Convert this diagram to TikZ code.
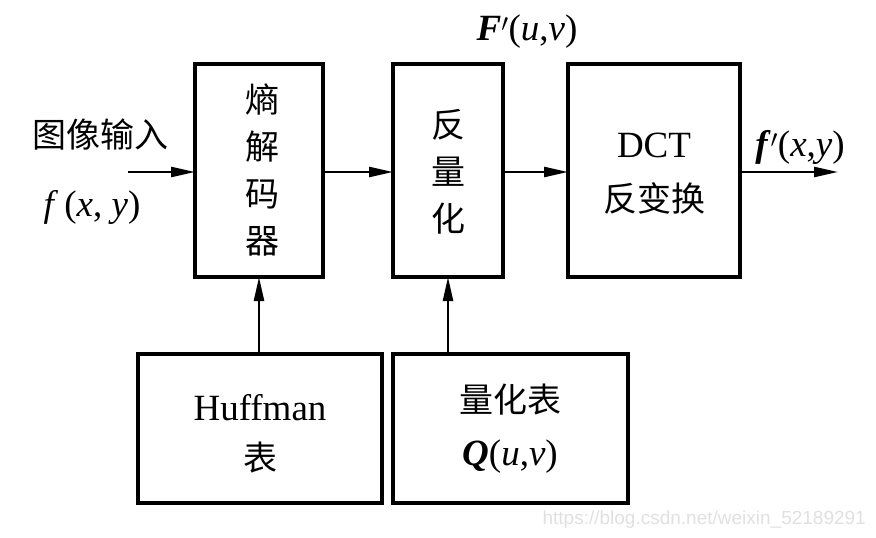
\documentclass[tikz,border=0pt]{standalone}
\usepackage{fontspec}
\setmainfont{Liberation Serif}
\newfontfamily\cjk{Noto Sans CJK SC}
\newfontfamily\wmfont{Liberation Sans}
\usetikzlibrary{arrows.meta,calc}
\begin{document}
\begin{tikzpicture}[x=1pt,y=-1pt,
  blk/.style={draw,line width=3.8pt,minimum width=#1,inner sep=0pt,outer sep=0pt},
  arr/.style={line width=2.4pt,-{Triangle[length=24pt,width=10pt]}},
  cj/.style={font=\cjk\fontsize{34}{40}\selectfont},
  cjcol/.style={font=\cjk\fontsize{34}{47}\selectfont},
  lt/.style={font=\fontsize{37}{44}\selectfont}]
\useasboundingbox (0,0) rectangle (876,538);
% boxes
\node[blk=128pt,minimum height=213pt] (b1) at (259,170.5) {};
\node[blk=110pt,minimum height=213pt] (b2) at (448,170.5) {};
\node[blk=172pt,minimum height=213pt] (b3) at (654,170.5) {};
\node[blk=244pt,minimum height=149pt] (hf) at (260,428.5) {};
\node[blk=235pt,minimum height=149pt] (qt) at (510.5,428.5) {};
% box texts
\node[cjcol,align=center,inner sep=0pt] (t1) at (262,170) {熵\\解\\码\\器};
\node[cjcol,align=center,inner sep=0pt] (t2) at (448,172) {反\\量\\化};
\node[lt,inner sep=0pt] (t3a) at (654,145) {DCT};
\node[cj,inner sep=0pt] (t3b) at (654,198) {反变换};
\node[lt,inner sep=0pt] (t4a) at (260,408) {Huffman};
\node[cj,inner sep=0pt] (t4b) at (260,458) {表};
\node[cj,inner sep=0pt] (t5a) at (510,400) {量化表};
\node[lt,inner sep=0pt] (t5b) at (510,457) {\textbf{\textit{Q}}(\textit{u},\textit{v})};
% outer labels
\node[cj,inner sep=0pt] (lin) at (100,135) {图像输入};
\node[lt,inner sep=0pt] (lfx) at (92,207) {\textit{f}\,(\textit{x}, \textit{y})};
\node[lt,inner sep=0pt] (lF) at (527,32) {\textbf{\textit{F}}$'$(\textit{u},\textit{v})};
\node[lt,inner sep=0pt] (lout) at (800,147) {\textbf{\textit{f}}$'$(\textit{x},\textit{y})};
% connectors
\coordinate (in) at (128,172);
\coordinate (out) at (838,172);
\draw[arr] (in) -- (in -| b1.west);
\draw[arr] (b1.east |- in) -- (b2.west |- in);
\draw[arr] (b2.east |- in) -- (b3.west |- in);
\draw[arr] (b3.east |- out) -- (out);
\draw[arr] (b1.south |- hf.north) -- (b1.south);
\draw[arr] (b2.south |- qt.north) -- (b2.south);
% watermark
\node[anchor=east,text=black!12,font=\wmfont\fontsize{19}{22}\selectfont,inner sep=0pt] (wm) at (866,520) {https://blog.csdn.net/weixin\_52189291};
\end{tikzpicture}
\end{document}
